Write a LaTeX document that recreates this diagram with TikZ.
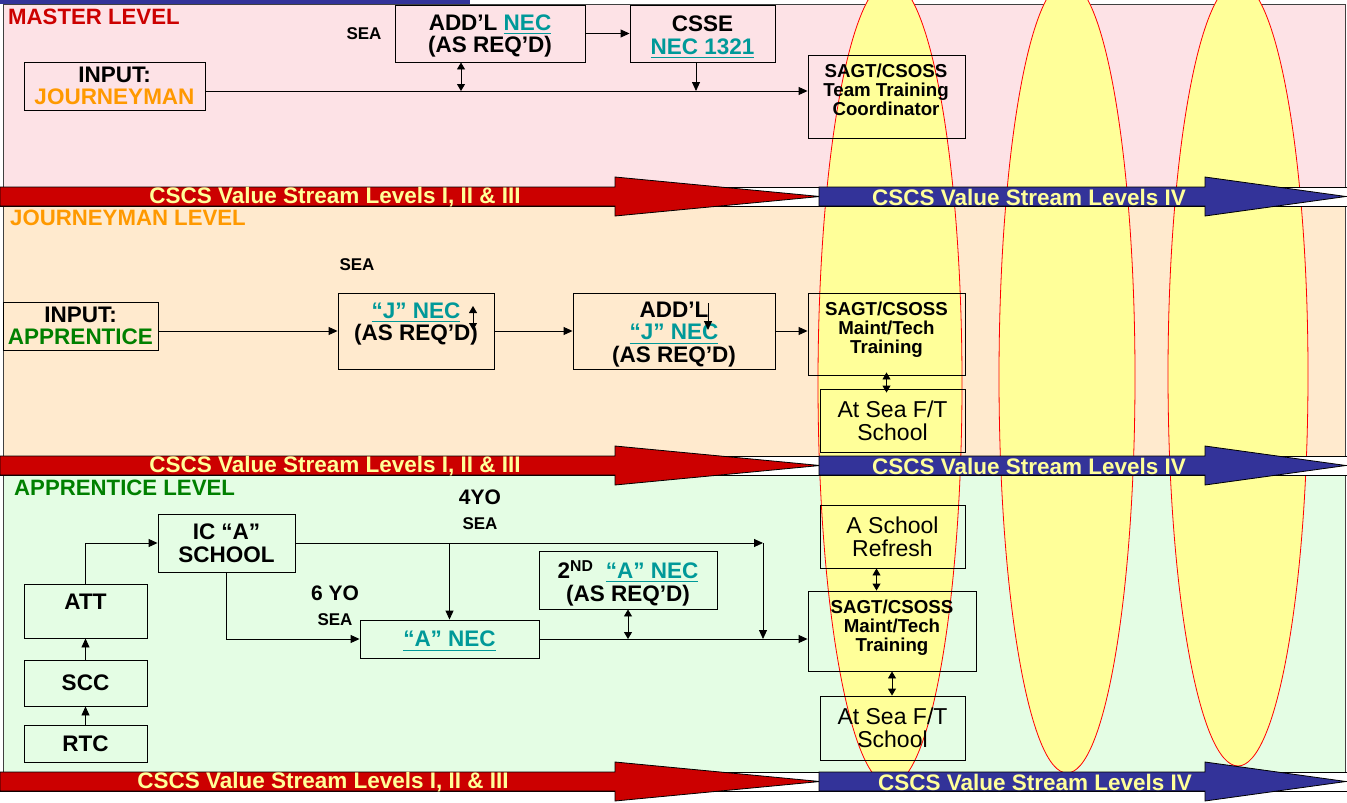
\documentclass[tikz,border=0pt]{standalone}
\usepackage{amsmath}
\usepackage{fontspec}
\setmainfont{Liberation Sans}
\usepackage{tikz}
\usetikzlibrary{positioning, arrows.meta}
\definecolor{mastred}{RGB}{204,0,0}
\definecolor{journorange}{RGB}{255,153,0}
\definecolor{apprgreen}{RGB}{0,128,0}
\definecolor{necteal}{RGB}{0,153,153}
\definecolor{streamblue}{RGB}{51,51,153}
\definecolor{streamtext}{RGB}{255,255,153}
\definecolor{ovalyellow}{RGB}{255,255,153}
\definecolor{masterbg}{RGB}{253,226,230}
\definecolor{journbg}{RGB}{255,234,206}
\definecolor{apprbg}{RGB}{228,253,228}
\newcommand{\nec}[1]{\textcolor{necteal}{\smash[b]{\underline{#1}}}}
\newcommand{\boxfont}{\fontsize{22.5}{22.5}\selectfont\bfseries}
\newcommand{\plainfont}{\fontsize{23}{23}\selectfont}
\newcommand{\sagtfont}{\fontsize{18.7}{19}\selectfont\bfseries}
\newcommand{\seafont}{\fontsize{17}{18}\selectfont\bfseries}
\newcommand{\yofont}{\fontsize{21}{22}\selectfont\bfseries}
\newcommand{\lvlfont}{\fontsize{22.2}{22}\selectfont\bfseries}
\newcommand{\streamfont}{\fontsize{22.5}{22}\selectfont\bfseries}

\begin{document}
\begin{tikzpicture}[x=1pt, y=-1pt,
box/.style={draw, line width=0.9pt, inner sep=0pt, align=center, font=\boxfont},
txt/.style={inner sep=0pt, align=center, font=\boxfont},
arr/.style={line width=0.9pt, -{Triangle[length=9pt,width=8pt]}},
darr/.style={line width=0.9pt, {Triangle[length=7pt,width=8pt]}-{Triangle[length=7pt,width=8pt]}},
band/.style={draw=black!75, line width=0.8pt},
oval/.style={fill=ovalyellow, draw=red, line width=0.8pt},
stream/.style={draw=black, line width=0.8pt},
streamlbl/.style={inner sep=0pt, text=streamtext, font=\streamfont}]
\useasboundingbox (0,0) rectangle (1347,803);
\clip (0,0) rectangle (1347,803);

\fill[streamblue] (0,0) rectangle (470,4);
\filldraw[band, fill=masterbg] (3,4) rectangle (1345,187);
\filldraw[band, fill=journbg] (3,206) rectangle (1345,456);
\filldraw[band, fill=apprbg] (3,475) rectangle (1345,772);

\filldraw[oval] (890,383) ellipse [x radius=72, y radius=402];
\filldraw[oval] (1067,377) ellipse [x radius=68, y radius=396];
\filldraw[oval] (1238,374) ellipse [x radius=70, y radius=392];

% master level
\node[txt, anchor=west, text=mastred, font=\lvlfont] (mlvl) at (8,17) {MASTER LEVEL};
\node[txt, font=\seafont] (msea) at (364,34) {SEA};
\node[box, minimum width=190pt, minimum height=57pt] (addl) at (490,33.5) {};
\node[txt] (addltxt) at (490,36) {ADD’L \nec{NEC}\\(AS REQ’D)};
\node[box, minimum width=145pt, minimum height=57pt] (csse) at (702.5,33.5) {};
\node[txt] (cssetxt) at (702.5,35) {CSSE\\\nec{NEC 1321}};
\node[box, minimum width=181pt, minimum height=48pt] (injour) at (114.5,86) {INPUT:\\\textcolor{journorange}{JOURNEYMAN}};
\node[box, minimum width=157pt, minimum height=83pt] (sagtm) at (886.5,96.5) {};
\node[txt, font=\sagtfont] (sagtmtxt) at (886,90) {SAGT/CSOSS\\Team Training\\Coordinator};
\coordinate (mj1) at (461,91);
\coordinate (mj2) at (696,91);
\draw[arr] (addl.east) -- (csse.west);
\draw[arr] ([yshift=-5pt]injour.east) -- ([yshift=-5pt]injour.east -| sagtm.west);
\draw[darr] (addl.south -| mj1) -- (mj1);
\draw[arr] (csse.south -| mj2) -- (mj2);

% journeyman level
\node[txt, anchor=west, text=journorange, font=\lvlfont] (jlvl) at (10,218) {JOURNEYMAN LEVEL};
\node[txt, font=\seafont] (jsea) at (357,265) {SEA};
\node[box, minimum width=155pt, minimum height=48pt] (inapp) at (80.5,326) {INPUT:\\\textcolor{apprgreen}{APPRENTICE}};
\node[box, minimum width=156pt, minimum height=76pt] (jnec) at (416,331) {};
\node[txt] (jnectxt) at (416,324) {\nec{“J” NEC}\\(AS REQ’D)};
\node[box, minimum width=202pt, minimum height=76pt] (addlj) at (674,331) {};
\node[txt] (addljtxt) at (674,334.5) {ADD’L\\\nec{“J” NEC}\\(AS REQ’D)};
\node[box, minimum width=157pt, minimum height=82pt] (sagtj) at (886.5,334) {};
\node[txt, font=\sagtfont] (sagtjtxt) at (886.5,329.5) {SAGT/CSOSS\\Maint/Tech\\Training};
\node[box, font=\plainfont, minimum width=145pt, minimum height=63pt] (seaj) at (892.5,420.5) {At Sea F/T\\School};
\coordinate (jt1) at (473,306);
\coordinate (jt2) at (473,330);
\coordinate (jd1) at (708,303);
\coordinate (jd2) at (708,330);
\draw[arr] (inapp.east |- jnec.west) -- (jnec.west);
\draw[arr] (jnec.east) -- (addlj.west);
\draw[arr] (addlj.east) -- (addlj.east -| sagtj.west);
\draw[darr] (jt1) -- (jt2);
\draw[arr] (jd1) -- (jd2);
\draw[darr] ([yshift=3pt]sagtj.south) -- ([yshift=-4pt]sagtj.south |- seaj.north);

% apprentice level
\node[txt, anchor=west, text=apprgreen, font=\lvlfont] (alvl) at (14,488) {APPRENTICE LEVEL};
\node[txt, font=\yofont] (ayo4) at (480,497) {4YO};
\node[txt, font=\seafont] (asea4) at (480,524) {SEA};
\node[txt, font=\yofont] (ayo6) at (335,593) {6 YO};
\node[txt, font=\seafont] (asea6) at (335,620) {SEA};
\node[box, minimum width=137pt, minimum height=58pt] (ica) at (226.5,543) {IC “A”\\SCHOOL};
\node[box, minimum width=123pt, minimum height=54pt] (att) at (85.5,611) {};
\node[txt] (atttxt) at (85.5,602) {ATT};
\node[box, minimum width=123pt, minimum height=46pt] (scc) at (85.5,683) {SCC};
\node[box, minimum width=123pt, minimum height=37pt] (rtc) at (85.5,743.5) {RTC};
\node[box, minimum width=179pt, minimum height=38pt] (anec) at (449.5,639) {\nec{“A” NEC}};
\node[box, minimum width=178pt, minimum height=58pt] (nec2) at (628,580) {};
\node[txt] (nec2txt) at (628,583) {2\textsuperscript{ND}\ \ \nec{“A” NEC}\\(AS REQ’D)};
\node[box, font=\plainfont, minimum width=145pt, minimum height=63pt] (refresh) at (892.5,536.5) {A School\\Refresh};
\node[box, minimum width=168pt, minimum height=80pt] (sagta) at (892,631) {};
\node[txt, font=\sagtfont] (sagtatxt) at (892,627.5) {SAGT/CSOSS\\Maint/Tech\\Training};
\node[box, font=\plainfont, minimum width=145pt, minimum height=64pt] (seaa) at (892.5,728) {At Sea F/T\\School};
\coordinate (a4yo) at (763,543);
\draw[arr] (rtc.north) -- (scc.south);
\draw[arr] (scc.north) -- (att.south);
\draw[arr] (att.north) |- (ica.west);
\draw[arr] (ica.east) -- (a4yo);
\draw[arr] (a4yo) -- (a4yo |- anec.east);
\draw[arr] (anec.north |- ica.east) -- (anec.north);
\draw[arr] (ica.south) |- (anec.west);
\draw[arr] (anec.east) -- (anec.east -| sagta.west);
\draw[darr] (nec2.south) -- (nec2.south |- anec.east);
\draw[darr] ([xshift=-16pt]refresh.south) -- ([xshift=-16pt]refresh.south |- sagta.north);
\draw[darr] (sagta.south) -- (sagta.south |- seaa.north);

% value stream arrows
\foreach \sy/\rx/\bx in {187/335/1029, 456/335/1029, 772/323/1035}{
  \filldraw[stream, fill=white] (0,\sy) rectangle (1347,\sy+19);
  \filldraw[stream, fill=mastred] (0,\sy) -- (615,\sy) -- (615,\sy-10) -- (820,\sy+9.5)
    -- (615,\sy+29) -- (615,\sy+19) -- (0,\sy+19) -- cycle;
  \filldraw[stream, fill=streamblue] (819,\sy) -- (1205,\sy) -- (1205,\sy-10) -- (1346,\sy+9.5)
    -- (1205,\sy+29) -- (1205,\sy+19) -- (819,\sy+19) -- cycle;
  \node[streamlbl] (red\sy) at (\rx,\sy+10) {CSCS Value Stream Levels I, II \& III};
  \node[streamlbl] (blue\sy) at (\bx,\sy+10) {CSCS Value Stream Levels IV};
}
\end{tikzpicture}
\end{document}
